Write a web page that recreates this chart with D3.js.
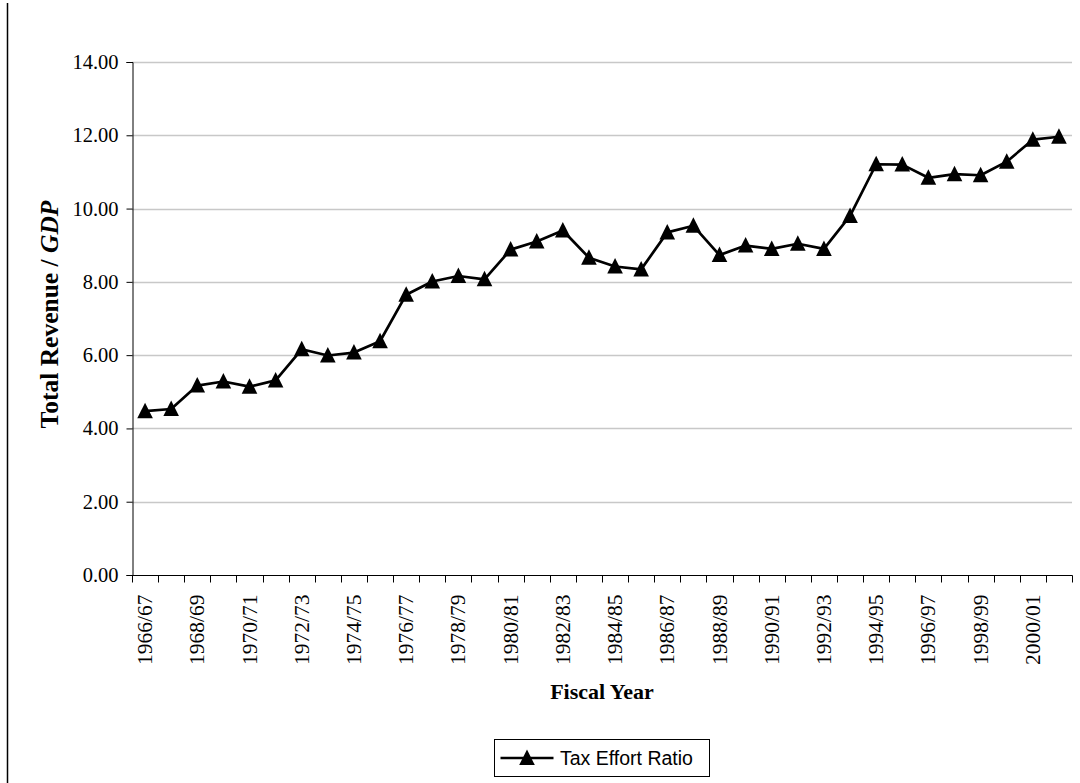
<!DOCTYPE html>
<html>
<head>
<meta charset="utf-8">
<script src="https://cdn.jsdelivr.net/npm/d3@7"></script>
<style>
  html, body { margin: 0; padding: 0; background: #fff; }
  svg { display: block; }
</style>
</head>
<body>
<svg id="chart" width="1080" height="783"></svg>
<script>
// Fiscal years and the tax effort ratio (total revenue as a share of GDP)
const fiscalYears = [
  "1966/67", "1967/68", "1968/69", "1969/70", "1970/71", "1971/72",
  "1972/73", "1973/74", "1974/75", "1975/76", "1976/77", "1977/78",
  "1978/79", "1979/80", "1980/81", "1981/82", "1982/83", "1983/84",
  "1984/85", "1985/86", "1986/87", "1987/88", "1988/89", "1989/90",
  "1990/91", "1991/92", "1992/93", "1993/94", "1994/95", "1995/96",
  "1996/97", "1997/98", "1998/99", "1999/00", "2000/01", "2001/02"
];
const taxEffortRatio = [
  4.47, 4.53, 5.17, 5.28, 5.14, 5.31,
  6.16, 5.99, 6.07, 6.38, 7.65, 8.01,
  8.16, 8.07, 8.88, 9.10, 9.40, 8.66,
  8.42, 8.34, 9.35, 9.53, 8.73, 8.99,
  8.90, 9.04, 8.90, 9.80, 11.21, 11.20,
  10.84, 10.94, 10.91, 11.28, 11.88, 11.96
];
const yTicks = [0, 2, 4, 6, 8, 10, 12, 14];
const seriesName = "Tax Effort Ratio";

const svg = d3.select("#chart");
const plot = { left: 132, right: 1072, top: 62, bottom: 575 };

// outer frame edge on the left
svg.append("line")
  .attr("x1", 7.5).attr("x2", 7.5).attr("y1", 3).attr("y2", 783)
  .attr("stroke", "#000").attr("stroke-width", 1.5);

const x = d3.scaleBand().domain(fiscalYears).range([plot.left, plot.right]).padding(0);
const y = d3.scaleLinear().domain([0, 14]).range([plot.bottom, plot.top]);

// horizontal gridlines
svg.append("g").selectAll("line")
  .data(yTicks.filter(d => d > 0))
  .join("line")
  .attr("x1", plot.left).attr("x2", plot.right)
  .attr("y1", d => Math.round(y(d)) + 0.5).attr("y2", d => Math.round(y(d)) + 0.5)
  .attr("stroke", "#c8c8c8").attr("stroke-width", 1.3);

// y axis
const yAxis = svg.append("g")
  .attr("transform", `translate(${plot.left + 0.5},0)`)
  .call(d3.axisLeft(y).tickValues(yTicks).tickFormat(d3.format(".2f")).tickSize(6).tickPadding(8));
yAxis.select(".domain").attr("stroke", "#000");
yAxis.selectAll(".tick line").attr("stroke", "#000");
yAxis.selectAll("text")
  .attr("font-family", "'Liberation Serif', 'Times New Roman', serif")
  .attr("font-size", 20.5).attr("fill", "#000");

// x axis: ticks on category boundaries, labels on every other category
const xAxisG = svg.append("g").attr("transform", `translate(0,${plot.bottom + 0.5})`);
xAxisG.append("line")
  .attr("x1", plot.left).attr("x2", plot.right + 0.5)
  .attr("stroke", "#000");
const boundaries = fiscalYears.map(d => x(d)).concat([x(fiscalYears[fiscalYears.length - 1]) + x.bandwidth()]);
xAxisG.selectAll("line.tk")
  .data(boundaries)
  .join("line").attr("class", "tk")
  .attr("x1", d => Math.round(d) + 0.5).attr("x2", d => Math.round(d) + 0.5)
  .attr("y1", 0).attr("y2", 7)
  .attr("stroke", "#000");
xAxisG.selectAll("text")
  .data(fiscalYears.filter((d, i) => i % 2 === 0))
  .join("text")
  .attr("transform", d => `translate(${x(d) + x.bandwidth() / 2 + 7},${19}) rotate(-90)`)
  .attr("text-anchor", "end")
  .attr("font-family", "'Liberation Serif', 'Times New Roman', serif")
  .attr("font-size", 21.5)
  .attr("fill", "#000")
  .text(d => d);

// axis titles
const yTitle = svg.append("text")
  .attr("transform", `translate(58,${(plot.top + plot.bottom) / 2 - 4}) rotate(-90)`)
  .attr("text-anchor", "middle")
  .attr("font-family", "'Liberation Serif', 'Times New Roman', serif")
  .attr("font-size", 25.5).attr("font-weight", "bold").attr("fill", "#000");
yTitle.append("tspan").text("Total Revenue / ");
yTitle.append("tspan").attr("font-style", "italic").text("GDP");

svg.append("text")
  .attr("x", (plot.left + plot.right) / 2).attr("y", 683 + 16)
  .attr("text-anchor", "middle")
  .attr("font-family", "'Liberation Serif', 'Times New Roman', serif")
  .attr("font-size", 22).attr("font-weight", "bold").attr("fill", "#000")
  .text("Fiscal Year");

// series line and triangle markers
const pts = fiscalYears.map((d, i) => ({ k: d, v: taxEffortRatio[i] }));
svg.append("path")
  .datum(pts)
  .attr("fill", "none").attr("stroke", "#000").attr("stroke-width", 2.7)
  .attr("stroke-linejoin", "round")
  .attr("d", d3.line().x(d => x(d.k) + x.bandwidth() / 2).y(d => y(d.v)));

const tri = "M0,-8.5L7.8,7L-7.8,7Z";
svg.append("g").selectAll("path")
  .data(pts)
  .join("path")
  .attr("transform", d => `translate(${x(d.k) + x.bandwidth() / 2},${y(d.v)})`)
  .attr("d", tri)
  .attr("fill", "#000");

// legend
const lg = svg.append("g").attr("transform", "translate(494.5,739.5)");
lg.append("rect").attr("width", 215).attr("height", 37)
  .attr("fill", "#fff").attr("stroke", "#000").attr("stroke-width", 1);
lg.append("line").attr("x1", 6).attr("x2", 59).attr("y1", 18.5).attr("y2", 18.5)
  .attr("stroke", "#000").attr("stroke-width", 2.7);
lg.append("path").attr("transform", "translate(32.5,18.5)").attr("d", tri).attr("fill", "#000");
lg.append("text").attr("x", 65.5).attr("y", 25.5)
  .attr("font-family", "'Liberation Sans', Arial, sans-serif")
  .attr("font-size", 19.5).attr("fill", "#000")
  .text(seriesName);
</script>
</body>
</html>
